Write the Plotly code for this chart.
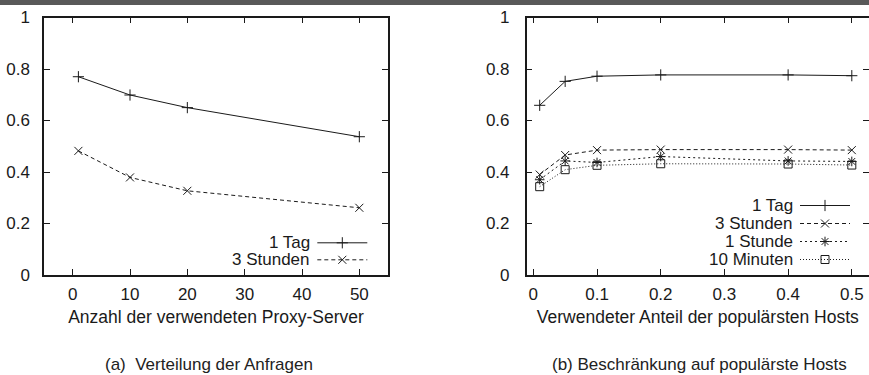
import plotly.graph_objects as go

# ---------------- data ----------------
proxy_servers = [1, 10, 20, 50]
left_1tag = [0.770, 0.699, 0.650, 0.537]
left_3std = [0.482, 0.379, 0.327, 0.261]

host_share = [0.01, 0.05, 0.1, 0.2, 0.4, 0.5]
right_1tag = [0.659, 0.752, 0.772, 0.777, 0.777, 0.774]
right_3std = [0.390, 0.466, 0.485, 0.487, 0.487, 0.485]
right_1std = [0.370, 0.443, 0.437, 0.460, 0.443, 0.441]
right_10min = [0.343, 0.409, 0.426, 0.432, 0.431, 0.427]

left_names = ["1 Tag", "3 Stunden"]
right_names = ["1 Tag", "3 Stunden", "1 Stunde", "10 Minuten"]

x_label_left = "Anzahl der verwendeten Proxy-Server"
x_label_right = "Verwendeter Anteil der populärsten Hosts"
caption_left = "(a) \u00a0Verteilung der Anfragen"
caption_right = "(b) Beschränkung auf populärste Hosts"

# ---------------- layout helpers ----------------
W, H = 869, 375
FONT = "Liberation Sans, Arial, sans-serif"
INK = "#1a1a1a"


def px(x):
    return x / W


def py(y):
    return 1 - y / H


styles = {
    "1 Tag": dict(dash="solid", symbol="cross-thin-open"),
    "3 Stunden": dict(dash="4px,3px", symbol="x-thin-open"),
    "1 Stunde": dict(dash="2px,3px", symbol="asterisk-open"),
    "10 Minuten": dict(dash="1px,2px", symbol="square-open"),
}


def trace(x, y, name, xa, ya, legend):
    st = styles[name]
    return go.Scatter(
        x=x, y=y, name=" ", xaxis=xa, yaxis=ya, legend=legend,
        mode="lines+markers",
        line=dict(color=INK, width=1, dash=st["dash"]),
        marker=dict(symbol=st["symbol"], size=8, color=INK,
                    line=dict(width=1, color=INK)),
        showlegend=True,
    )


# one gnuplot-style key entry per legend: (series name, text right edge, row centre)
key_rows = []
for i, nm in enumerate(left_names):
    key_rows.append((nm, 312.3, 242.3 + 17 * i))
for i, nm in enumerate(right_names):
    key_rows.append((nm, 795.0, 205 + 18 * i))

legend_ids = ["legend"] + [f"legend{k}" for k in range(2, len(key_rows) + 1)]

fig = go.Figure()
series_left = [left_1tag, left_3std]
series_right = [right_1tag, right_3std, right_1std, right_10min]
k = 0
for vals, nm in zip(series_left, left_names):
    fig.add_trace(trace(proxy_servers, vals, nm, "x", "y", legend_ids[k]))
    k += 1
for vals, nm in zip(series_right, right_names):
    fig.add_trace(trace(host_share, vals, nm, "x2", "y2", legend_ids[k]))
    k += 1

axis_common = dict(
    showline=True, mirror="ticks", linecolor=INK, linewidth=1.5,
    ticks="inside", ticklen=6, tickwidth=1.2, tickcolor=INK,
    showgrid=False, zeroline=False, automargin=False,
    tickfont=dict(family=FONT, size=17, color=INK),
)

ydom = [py(275), py(17.5)]
title_font = dict(family=FONT, size=17.5, color=INK)

layout = dict(
    width=W, height=H,
    margin=dict(l=0, r=0, t=0, b=0),
    paper_bgcolor="white", plot_bgcolor="white",
    font=dict(family=FONT, size=17, color=INK),
    xaxis=dict(domain=[px(44), px(388)], range=[-5, 55], dtick=10, tick0=0,
               anchor="y", ticklabelstandoff=3,
               title=dict(text=x_label_left, standoff=8, font=title_font),
               **axis_common),
    yaxis=dict(domain=ydom, range=[0, 1], dtick=0.2, tick0=0, anchor="x",
               ticklabelstandoff=9, **axis_common),
    xaxis2=dict(domain=[px(526.7), 1.0], range=[-0.0104, 0.527], dtick=0.1, tick0=0,
                anchor="y2", ticklabelstandoff=3,
                title=dict(text=x_label_right, standoff=8, font=title_font),
                **axis_common),
    yaxis2=dict(domain=ydom, range=[0, 1], dtick=0.2, tick0=0, anchor="x2",
                ticklabelstandoff=12, **axis_common),
    showlegend=True,
)

annotations = []
for lid, (nm, xr, yc) in zip(legend_ids, key_rows):
    layout[lid] = dict(x=px(xr), y=py(yc - 14), xanchor="left", yanchor="top",
                       bgcolor="rgba(0,0,0,0)", borderwidth=0, itemwidth=50,
                       font=dict(size=10), tracegroupgap=0, itemclick=False,
                       itemdoubleclick=False)
    annotations.append(dict(text=nm, x=px(xr), y=py(yc), xref="paper",
                            yref="paper", xanchor="right", yanchor="middle",
                            showarrow=False, font=dict(family=FONT, size=17, color=INK)))

annotations.append(dict(text=caption_left, x=px(209), y=0, xref="paper", yref="paper",
                        xanchor="center", yanchor="bottom", showarrow=False, borderpad=0,
                        font=dict(family=FONT, size=17, color="#222")))
annotations.append(dict(text=caption_right, x=px(699), y=0, xref="paper", yref="paper",
                        xanchor="center", yanchor="bottom", showarrow=False, borderpad=0,
                        font=dict(family=FONT, size=17, color="#222")))
layout["annotations"] = annotations
fig.update_layout(**layout)

# dark strip at the top (cropped header)
fig.add_shape(type="rect", xref="paper", yref="paper", x0=0, x1=1, y0=py(5), y1=1,
              fillcolor="#595959", line=dict(width=0), layer="above")

fig.write_html(
    "out.html",
    config={"displayModeBar": False},
    post_script="document.body.style.margin='0';document.body.style.overflow='hidden';",
)
